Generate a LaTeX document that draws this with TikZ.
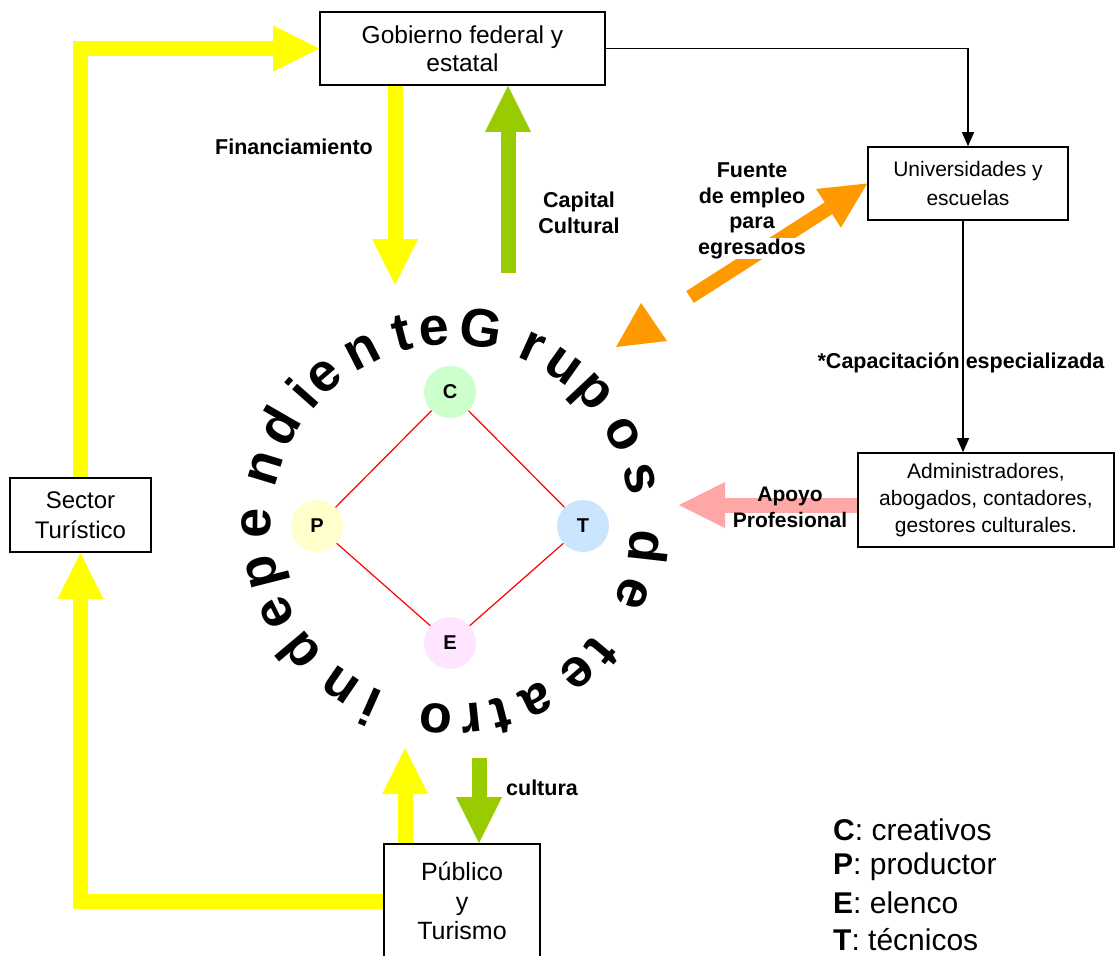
\documentclass[tikz,border=0pt]{standalone}
\usepackage{fontspec}
\setmainfont{Liberation Sans}
\usetikzlibrary{arrows.meta,calc}
\definecolor{yel}{RGB}{255,255,0}
\definecolor{grn}{RGB}{153,204,0}
\definecolor{org}{RGB}{255,153,0}
\definecolor{pnk}{RGB}{255,166,166}
\definecolor{cC}{RGB}{204,255,204}
\definecolor{cP}{RGB}{255,255,204}
\definecolor{cT}{RGB}{204,229,255}
\definecolor{cE}{RGB}{255,229,255}
\begin{document}
\begin{tikzpicture}[x=1pt,y=-1pt,
  box/.style={draw=black, fill=white, line width=1.6pt, inner sep=0pt, align=center},
  fat/.style={draw=#1, line width=15pt, line join=miter,
     -{Triangle[width=46pt,length=46pt,line width=0pt,fill=#1]}},
  thin/.style={draw=black, line width=1.2pt, -{Triangle[width=12pt,length=14pt]}},
  lbl/.style={font=\bfseries\fontsize{21.5}{25.5}\selectfont, align=center, inner sep=0pt},
  role/.style={circle, minimum size=52pt, inner sep=0pt, font=\bfseries\fontsize{20}{20}\selectfont},
  ring/.style={font=\bfseries\fontsize{54}{54}\selectfont, anchor=base, inner sep=0pt},
  legend/.style={anchor=west, inner sep=0pt, font=\fontsize{30}{30}\selectfont}
]
\useasboundingbox (0,0) rectangle (1115,955);

% boxes
\node[box, minimum width=285pt, minimum height=73pt, font=\fontsize{24.5}{28}\selectfont] (gob) at (462.5,48.5) {Gobierno federal y\\estatal};
\node[box, minimum width=200pt, minimum height=73pt, font=\fontsize{21}{29}\selectfont] (univ) at (968,183.5) {Universidades y\\escuelas};
\node[box, minimum width=256pt, minimum height=94pt, font=\fontsize{21}{27}\selectfont] (adm) at (986,500) {Administradores,\\abogados, contadores,\\gestores culturales.};
\node[box, minimum width=141pt, minimum height=74pt, font=\fontsize{24}{30}\selectfont] (sec) at (80.5,515) {Sector\\Turístico};
\node[box, minimum width=156pt, minimum height=114pt, font=\fontsize{25}{29.5}\selectfont] (pub) at (462,901) {Público\\y\\Turismo};

% coordinates for free ends
\coordinate (finTip) at (395,285);
\coordinate (capStart) at (508,273);
\coordinate (pubUp) at (405,748);
\coordinate (culStart) at (479,758);
\coordinate (apTip) at (679,505);
\coordinate (orStart) at (690,297);

% fat arrows
\draw[fat=yel] (sec.north) |- (gob.west);
\draw[fat=yel] (pub.west) -| (sec.south);
\draw[fat=yel] (finTip |- gob.south) -- (finTip);
\draw[fat=grn] (capStart) -- (capStart |- gob.south);
\draw[fat=yel] (pubUp |- pub.north) -- (pubUp);
\draw[fat=grn] (culStart) -- (culStart |- pub.north);
\draw[fat=pnk] (apTip -| adm.west) -- (apTip);
\draw[draw=org, line width=14pt, -{Triangle[width=46pt,length=46pt,line width=0pt,fill=org]}] (orStart) -- (univ.west);
\fill[org] (641,303) -- (616,347) -- (667,341) -- cycle;

% thin black connectors
\draw[thin] (gob.east) -| (univ.north);
\draw[thin] ([xshift=-5pt]univ.south) -- ([xshift=-5pt]univ.south |- adm.north);

% labels
\node[lbl] (lfin) at (294,147) {Financiamiento};
\node[lbl] (lcap) at (579,213) {Capital\\Cultural};
\node[lbl] (lfue) at (752,211) {Fuente\\de empleo\\para\\{\setlength{\fboxsep}{0.5pt}\colorbox{white}{egresados}}};
\node[lbl] (lcapa) at (961,363) {*Capacitación especializada};
\node[lbl, font=\bfseries\fontsize{21}{26}\selectfont] (lapo) at (790,507) {Apoyo\\Profesional};
\node[lbl] (lcul) at (542,788) {cultura};

% role circles
\node[role, fill=cC] (C) at (450,392) {C};
\node[role, fill=cP] (P) at (317,526) {P};
\node[role, fill=cT] (T) at (583,526) {T};
\node[role, fill=cE] (E) at (450,643) {E};
\draw[red, line width=1.2pt] (C) -- (T) (T) -- (E) (E) -- (P) (P) -- (C);

% ring text
\foreach \ch/\ang [count=\i] in {G/8.7, r/24.5, u/35.4, p/46.9, o/62.2, s/76.3, d/96.5, e/110.7,
  t/129.9, e/139.4, a/154, t/165.3, r/174, o/184.6,
  i/204, n/214.5, d/230, e/243.4, p/255.9, e/270.6, n/287, d/300, i/311.5, e/319.5, n/332.9, t/345.5, e/355}
  \node[ring, rotate=-\ang] (ring\i) at ({451+180*sin(\ang)},{525-180*cos(\ang)}) {\ch};

% legend
\node[legend] (legC) at (833,830) {\textbf{C}: creativos};
\node[legend] (legP) at (833,866.5) {\textbf{P}: productor};
\node[legend] (legE) at (833,903) {\textbf{E}: elenco};
\node[legend] (legT) at (833,940) {\textbf{T}: técnicos};
\end{tikzpicture}
\end{document}
